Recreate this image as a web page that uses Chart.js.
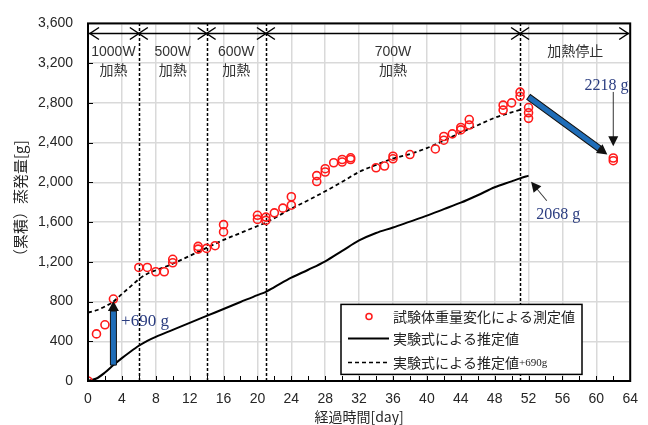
<!DOCTYPE html>
<html>
<head>
<meta charset="utf-8">
<script src="https://cdn.jsdelivr.net/npm/chart.js@4.4.0/dist/chart.umd.min.js"></script>
<style>
  html, body { margin: 0; padding: 0; background: #fff; }
  canvas { display: block; }
</style>
</head>
<body>
<canvas id="chart" width="648" height="425"></canvas>
<script>
// measured cumulative evaporation (red circles)
const measuredDays = [0, 1, 2, 3, 6, 7, 8, 9, 10, 10, 13, 13, 14, 15, 16, 16, 20, 20, 21, 21, 22, 23, 24, 24,
  27, 27, 28, 28, 29, 30, 30, 31, 31, 34, 35, 36, 36, 38, 41, 42, 42, 43, 44, 44, 45, 45,
  49, 49, 50, 51, 51, 52, 52, 52, 62, 62]
const measuredValues = [0, 474, 566, 825, 1143, 1143, 1100, 1100, 1225, 1190, 1355, 1328, 1335, 1362, 1574, 1501,
  1668, 1627, 1650, 1617, 1693, 1740, 1855, 1770, 2068, 2008, 2137, 2104, 2197, 2230, 2204, 2247, 2230,
  2147, 2164, 2263, 2237, 2280, 2336, 2462, 2424, 2488, 2552, 2528, 2632, 2577,
  2777, 2727, 2800, 2908, 2866, 2753, 2700, 2644, 2245, 2218]

// estimate from the empirical formula (solid line)
const estDays = [0, 1, 2, 3, 4, 5, 6, 7, 8, 10, 12, 14, 16, 18, 20, 21, 22, 24, 26, 28, 30, 32, 34, 36, 38, 40, 42, 44, 46, 48, 50, 51, 52]
const estValues = [0, 25, 85, 160, 230, 295, 355, 405, 445, 515, 585, 655, 725, 795, 865, 898, 945, 1040, 1120, 1205,
  1310, 1415, 1490, 1545, 1605, 1665, 1730, 1795, 1870, 1950, 2010, 2040, 2068]

// estimate + 690 g (dashed line)
const offsetDays = [0, 1, 2, 3, 4, 5, 6, 7, 8, 10, 12, 14, 16, 18, 20, 21, 22, 24, 26, 28, 30, 32, 34, 36, 38, 40, 42, 44, 46, 48, 50, 51]
const offsetValues = [690, 712, 750, 800, 875, 950, 1025, 1080, 1115, 1180, 1260, 1340, 1420, 1490, 1560, 1595, 1640,
  1735, 1820, 1910, 2005, 2105, 2175, 2240, 2285, 2345, 2420, 2500, 2575, 2650, 2705, 2730]

const xTicks = [0, 4, 8, 12, 16, 20, 24, 28, 32, 36, 40, 44, 48, 52, 56, 60, 64]
const yTicks = [0, 400, 800, 1200, 1600, 2000, 2400, 2800, 3200, 3600]

// heating phases
const phaseBounds = [0, 6, 14, 21, 51, 64]
const phaseLabels = [["1000W", "加熱"], ["500W", "加熱"], ["600W", "加熱"], ["700W", "加熱"], ["加熱停止"]]
const phaseArrowY = 3500
const phaseLabelY = [3310, 3120]

// annotations (data coordinates)
const offsetArrow = { from: [3, 160], to: [3, 805], label: "+690 g", at: [3.9, 596] }
const dropArrow = { from: [52, 2860], to: [61.3, 2280] }
const endLabel = { text: "2218 g", at: [61.2, 2975], from: [62, 2910], to: [62, 2362] }
const estLabel = { text: "2068 g", at: [55.5, 1675], from: [54.15, 1815], to: [52.3, 2005] }

const legendItems = ["試験体重量変化による測定値", "実験式による推定値", "実験式による推定値"]

const toPoints = (xs, ys) => xs.map((d, i) => ({ x: d, y: ys[i] }))

function chevron(ctx, px, py, dir) {
  ctx.beginPath()
  ctx.moveTo(px - dir * 9, py - 6)
  ctx.lineTo(px, py)
  ctx.lineTo(px - dir * 9, py + 6)
  ctx.stroke()
}

function blockArrow(ctx, x1, y1, x2, y2) {
  const ang = Math.atan2(y2 - y1, x2 - x1)
  const len = Math.hypot(x2 - x1, y2 - y1)
  const head = 10, hw = 5.5, bw = 3
  ctx.save()
  ctx.translate(x1, y1)
  ctx.rotate(ang)
  ctx.fillStyle = '#1f6db8'
  ctx.strokeStyle = '#111'
  ctx.lineWidth = 1
  ctx.beginPath()
  ctx.rect(0, -bw, len - head, bw * 2)
  ctx.fill()
  ctx.stroke()
  ctx.fillStyle = '#111'
  ctx.beginPath()
  ctx.moveTo(len, 0)
  ctx.lineTo(len - head, -hw)
  ctx.lineTo(len - head, hw)
  ctx.closePath()
  ctx.fill()
  ctx.restore()
}

function thinArrow(ctx, x1, y1, x2, y2) {
  const ang = Math.atan2(y2 - y1, x2 - x1)
  const len = Math.hypot(x2 - x1, y2 - y1)
  ctx.save()
  ctx.translate(x1, y1)
  ctx.rotate(ang)
  ctx.strokeStyle = '#333'
  ctx.fillStyle = '#111'
  ctx.lineWidth = 1
  ctx.beginPath()
  ctx.moveTo(0, 0)
  ctx.lineTo(len - 8, 0)
  ctx.stroke()
  ctx.beginPath()
  ctx.moveTo(len, 0)
  ctx.lineTo(len - 10, -5)
  ctx.lineTo(len - 10, 5)
  ctx.closePath()
  ctx.fill()
  ctx.restore()
}

const overlay = {
  id: 'overlay',
  beforeDatasetsDraw(chart) {
    const { ctx, chartArea: a, scales: { x, y } } = chart
    ctx.save()
    // phase dividers
    ctx.strokeStyle = '#000'
    ctx.lineWidth = 1.5
    ctx.setLineDash([3, 2])
    phaseBounds.slice(1, -1).forEach(d => {
      const px = Math.round(x.getPixelForValue(d)) + 0.5
      ctx.beginPath()
      ctx.moveTo(px, a.bottom)
      ctx.lineTo(px, a.top)
      ctx.stroke()
    })
    ctx.setLineDash([])

    // phase arrow row
    const ry = Math.round(y.getPixelForValue(phaseArrowY)) + 0.5
    ctx.beginPath()
    ctx.moveTo(x.getPixelForValue(phaseBounds[0]), ry)
    ctx.lineTo(x.getPixelForValue(phaseBounds[phaseBounds.length - 1]) - 1, ry)
    ctx.stroke()
    phaseBounds.forEach((d, i) => {
      const px = x.getPixelForValue(d)
      if (i > 0) chevron(ctx, i === phaseBounds.length - 1 ? px - 2 : px, ry, 1)
      if (i < phaseBounds.length - 1) chevron(ctx, i === 0 ? px + 2 : px, ry, -1)
    })

    // phase labels
    ctx.fillStyle = '#333'
    ctx.font = "14px 'Liberation Sans', 'Noto Sans CJK JP', sans-serif"
    ctx.textAlign = 'center'
    ctx.textBaseline = 'middle'
    phaseLabels.forEach((lines, i) => {
      const cx = x.getPixelForValue((phaseBounds[i] + phaseBounds[i + 1]) / 2)
      lines.forEach((t, j) => ctx.fillText(t, cx, y.getPixelForValue(phaseLabelY[j])))
    })

    // inward tick marks
    ctx.strokeStyle = '#000'
    ctx.lineWidth = 1
    for (let d = 2; d < 64; d += 2) {
      const px = Math.round(x.getPixelForValue(d)) + 0.5
      ctx.beginPath()
      ctx.moveTo(px, a.bottom)
      ctx.lineTo(px, a.bottom - 5)
      ctx.stroke()
    }
    yTicks.forEach(v => {
      const py = Math.round(y.getPixelForValue(v)) + 0.5
      ctx.beginPath()
      ctx.moveTo(a.left, py)
      ctx.lineTo(a.left + 5, py)
      ctx.stroke()
    })
    ctx.restore()
  },
  afterDatasetsDraw(chart) {
    const { ctx, chartArea: a, scales: { x, y } } = chart
    const P = ([d, v]) => [x.getPixelForValue(d), y.getPixelForValue(v)]
    ctx.save()

    blockArrow(ctx, ...P(offsetArrow.from), ...P(offsetArrow.to))
    blockArrow(ctx, ...P(dropArrow.from), ...P(dropArrow.to))
    thinArrow(ctx, ...P(endLabel.from), ...P(endLabel.to))
    thinArrow(ctx, ...P(estLabel.from), ...P(estLabel.to))

    ctx.fillStyle = '#2b3d80'
    ctx.textBaseline = 'middle'
    ctx.font = "17px 'Liberation Serif', serif"
    ctx.textAlign = 'left'
    ctx.fillText(offsetArrow.label, ...P(offsetArrow.at))
    ctx.font = "16px 'Liberation Serif', serif"
    ctx.textAlign = 'center'
    ctx.fillText(endLabel.text, ...P(endLabel.at))
    ctx.fillText(estLabel.text, ...P(estLabel.at))

    // legend box
    const lx = a.left + 253, ly = a.top + 281, lw = 241, lh = 70
    ctx.fillStyle = '#fff'
    ctx.fillRect(lx, ly, lw, lh)
    ctx.strokeStyle = '#000'
    ctx.lineWidth = 1.5
    ctx.strokeRect(lx, ly, lw, lh)
    const rows = [ly + 12, ly + 34, ly + 58]
    ctx.strokeStyle = '#ff1a1a'
    ctx.beginPath()
    ctx.arc(lx + 28, rows[0], 3, 0, Math.PI * 2)
    ctx.stroke()
    ctx.strokeStyle = '#000'
    ctx.lineWidth = 2
    ctx.beginPath()
    ctx.moveTo(lx + 7, rows[1])
    ctx.lineTo(lx + 48, rows[1])
    ctx.stroke()
    ctx.lineWidth = 1.5
    ctx.setLineDash([4, 3])
    ctx.beginPath()
    ctx.moveTo(lx + 7, rows[2])
    ctx.lineTo(lx + 48, rows[2])
    ctx.stroke()
    ctx.setLineDash([])
    ctx.fillStyle = '#222'
    ctx.textAlign = 'left'
    ctx.font = "14px 'Noto Sans CJK JP', sans-serif"
    legendItems.forEach((t, i) => ctx.fillText(t, lx + 52, rows[i]))
    const w = ctx.measureText(legendItems[2]).width
    ctx.font = "11px 'Liberation Serif', serif"
    ctx.fillText("+690g", lx + 52 + w, rows[2] + 1)

    // plot frame
    ctx.strokeStyle = '#000'
    ctx.lineWidth = 2
    ctx.strokeRect(a.left, a.top, a.right - a.left, a.bottom - a.top)
    ctx.restore()
  }
}

const tickFont = { family: "'Liberation Sans', Arial, sans-serif", size: 14 }

new Chart(document.getElementById('chart'), {
  type: 'scatter',
  data: {
    datasets: [
      {
        label: legendItems[0],
        data: toPoints(measuredDays, measuredValues),
        showLine: false,
        pointStyle: 'circle',
        pointRadius: 4,
        pointBorderWidth: 1.6,
        pointBorderColor: '#ff1a1a',
        pointBackgroundColor: 'rgba(0,0,0,0)'
      },
      {
        label: legendItems[1],
        data: toPoints(estDays, estValues),
        showLine: true,
        borderColor: '#000',
        borderWidth: 2,
        pointRadius: 0,
        cubicInterpolationMode: 'monotone'
      },
      {
        label: legendItems[2],
        data: toPoints(offsetDays, offsetValues),
        showLine: true,
        borderColor: '#000',
        borderWidth: 1.8,
        borderDash: [4, 3],
        pointRadius: 0,
        cubicInterpolationMode: 'monotone'
      }
    ]
  },
  options: {
    responsive: false,
    animation: false,
    layout: { padding: { top: 19, right: 10, left: 0, bottom: 0 } },
    plugins: { legend: { display: false }, tooltip: { enabled: false } },
    scales: {
      x: {
        type: 'linear',
        min: 0,
        max: 64,
        afterBuildTicks: s => { s.ticks = xTicks.map(v => ({ value: v })) },
        afterFit: s => { s.height = 44 },
        grid: { color: '#d9d9d9', lineWidth: 1.5, drawTicks: false },
        border: { display: false },
        ticks: { font: tickFont, color: '#262626', padding: 10, maxRotation: 0 },
        title: {
          display: true,
          text: '経過時間[day]',
          color: '#262626',
          font: { family: "'Noto Sans CJK JP', sans-serif", size: 14 },
          padding: { top: 0, bottom: 0 }
        }
      },
      y: {
        min: 0,
        max: 3600,
        afterBuildTicks: s => { s.ticks = yTicks.map(v => ({ value: v })) },
        afterFit: s => { s.width = 88 },
        grid: { color: '#d9d9d9', lineWidth: 1.5, drawTicks: false },
        border: { display: false },
        ticks: {
          font: tickFont,
          color: '#262626',
          padding: 15,
          callback: v => v.toLocaleString('en-US')
        },
        title: {
          display: true,
          text: '（累積）蒸発量[g]',
          color: '#262626',
          font: { family: "'Noto Sans CJK JP', sans-serif", size: 15 },
          padding: { top: 11, bottom: 4 }
        }
      }
    }
  },
  plugins: [overlay]
})
</script>
</body>
</html>
